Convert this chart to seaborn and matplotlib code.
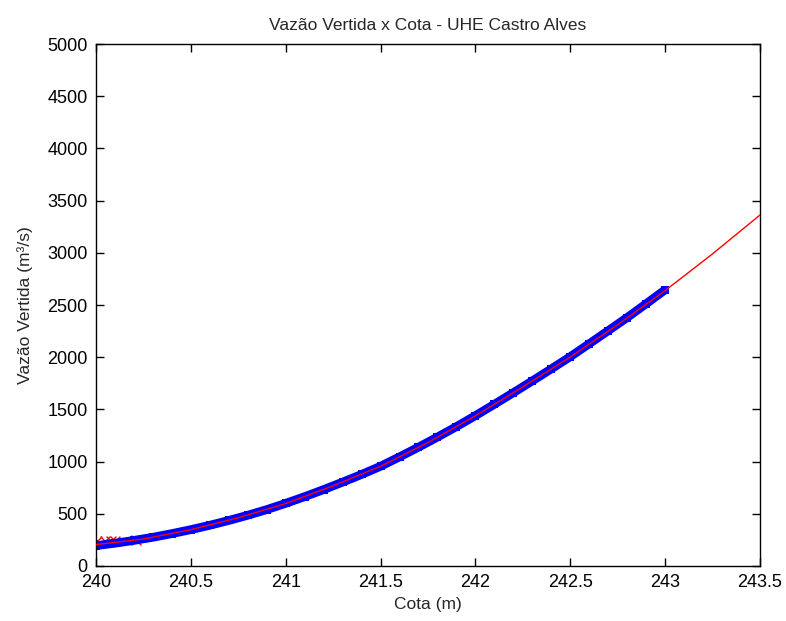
import numpy as np
import pandas as pd
import matplotlib
matplotlib.use("Agg")
import matplotlib.pyplot as plt
import seaborn as sns

# computed discharge (blue band)
cota = [240.0, 240.1, 240.2, 240.3, 240.4, 240.5, 240.6, 240.7, 240.8, 240.9,
        241.0, 241.1, 241.2, 241.3, 241.4, 241.5, 241.6, 241.7, 241.8, 241.9,
        242.0, 242.1, 242.2, 242.3, 242.4, 242.5, 242.6, 242.7, 242.8, 242.9,
        243.0]
vazao = [195, 218, 245, 275, 310, 348, 390, 436, 486, 540,
         600, 664, 732, 803, 877, 955, 1045, 1138, 1235, 1335,
         1440, 1549, 1660, 1773, 1888, 2005, 2129, 2254, 2380, 2512,
         2646]

# fitted curve (red line)
cota_fit = [240.0, 240.25, 240.5, 240.75, 241.0, 241.25, 241.5, 241.75,
            242.0, 242.25, 242.5, 242.75, 243.0, 243.25, 243.5]
vazao_fit = [205, 258, 348, 462, 598, 768, 955, 1183,
             1438, 1716, 2002, 2312, 2638, 2990, 3362]

# observed points near the sill (red x)
cota_obs = [240.007, 240.05, 240.08, 240.10, 240.21]
vazao_obs = [238, 236, 238, 240, 252]

xticks = [240, 240.5, 241, 241.5, 242, 242.5, 243, 243.5]
yticks = list(range(0, 5001, 500))

sns.set_style("white")
plt.rcParams["font.family"] = ["Liberation Sans", "DejaVu Sans"]

fig = plt.figure(figsize=(7.86, 6.21), dpi=100)
ax = fig.add_axes([0.1221, 0.0886, 0.8448, 0.8405])

sns.scatterplot(x=cota_obs, y=vazao_obs, ax=ax, marker="x", color="#ff0000",
                s=50, linewidth=1.0, zorder=1)
sns.lineplot(x=cota, y=vazao, ax=ax, color="#0000ff", linewidth=6.3,
             solid_capstyle="butt", zorder=2)
sns.scatterplot(x=cota, y=vazao, ax=ax, marker="s", color="#0000ff",
                s=26, linewidth=0, zorder=2)
sns.lineplot(x=cota_fit, y=vazao_fit, ax=ax, color="#ff0000", linewidth=1.0,
             zorder=3)

ax.set_xlim(240, 243.5)
ax.set_ylim(0, 5000)
ax.set_xticks(xticks)
ax.set_xticklabels([f"{t:g}" for t in xticks])
ax.set_yticks(yticks)
ax.tick_params(direction="in", length=6, width=1, colors="black",
               labelsize=13, top=True, right=True, bottom=True, left=True, pad=6)
for s in ax.spines.values():
    s.set_color("black")
    s.set_linewidth(1.0)

ax.set_title("Vazão Vertida x Cota - UHE Castro Alves", fontsize=12.5, pad=10)
ax.set_xlabel("Cota (m)", fontsize=12.5, labelpad=4)
ax.set_ylabel("Vazão Vertida (m³/s)", fontsize=12.5, labelpad=10)

fig.savefig("out.png", dpi=100)
